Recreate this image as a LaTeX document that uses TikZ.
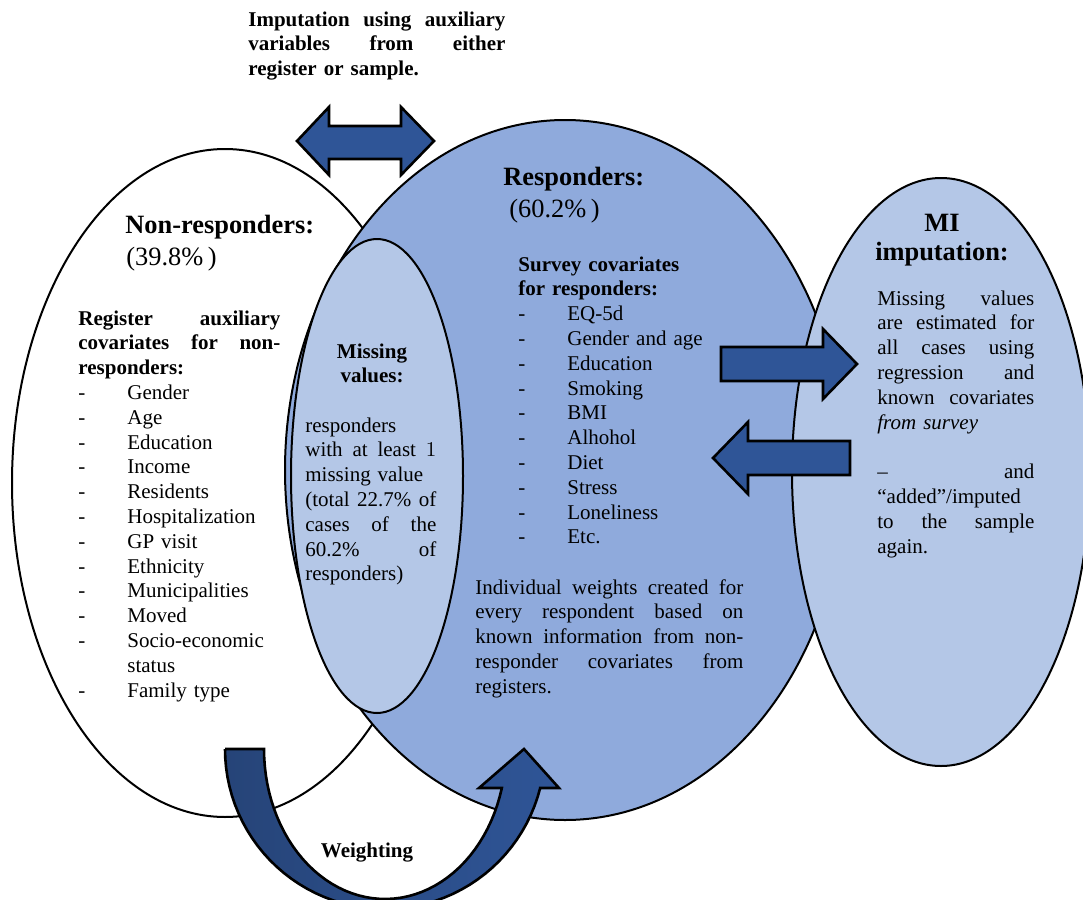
\documentclass[tikz,border=0pt]{standalone}
\usepackage{fontspec}
\setmainfont{Liberation Serif}
\usepackage{tikz}

\definecolor{respblue}{HTML}{8FAADC}
\definecolor{lightblue}{HTML}{B4C7E7}
\definecolor{arrowblue}{HTML}{2F5597}
\definecolor{darkarrow}{HTML}{264478}

\newcommand{\jl}[2]{\leavevmode\hbox to #1{#2}}
\newcommand{\itm}[1]{\makebox[24.5pt][l]{-}#1}

\begin{document}
\begin{tikzpicture}[x=0.5pt,y=-0.5pt,
  blob/.style={draw=black,line width=1pt},
  arrowedge/.style={draw=black,line width=1.3pt,line join=miter},
  blockarrow/.style={arrowedge,fill=arrowblue},
  txt/.style={inner sep=0pt,anchor=base west,align=left,font=\fontsize{10.5}{12.4}\selectfont},
  head/.style={inner sep=0pt,anchor=base west,font=\fontsize{13.2}{16}\selectfont\bfseries}]

\useasboundingbox (0,0) rectangle (1083,900);
\clip (0,0) rectangle (1083,900);

\draw [blob,fill=white] (225,483) ellipse [x radius=213,y radius=334] ;
\draw [blob,fill=respblue] (565,470) ellipse [x radius=280,y radius=350] ;
\draw [blob,fill=lightblue] (377,476) ellipse [x radius=86,y radius=237] ;
\draw [blob,fill=lightblue] (941,472) ellipse [x radius=149,y radius=294] ;

\draw [blockarrow] (297,141) -- (329,107) -- (329,126) -- (401,126) -- (401,107) -- (434,141)
  -- (401,175) -- (401,159) -- (329,159) -- (329,175) -- cycle ;
\draw [blockarrow] (721,347) -- (823,347) -- (823,329) -- (857,364) -- (823,399) -- (823,381) -- (721,381) -- cycle ;
\draw [blockarrow] (850,441) -- (748,441) -- (748,422) -- (713,458) -- (748,494) -- (748,475) -- (850,475) -- cycle ;
\draw [arrowedge,left color=darkarrow,right color=arrowblue] (225,749) -- (264,749)
  -- plot [domain=180:15.07,samples=50] ({385+121*cos(\x)},{749+150*sin(\x)})
  -- (479,788) -- (524,749) -- (559,788) -- (539,788)
  -- plot [domain=14.1:180,samples=50] ({385+160*cos(\x)},{749+160*sin(\x)}) -- cycle ;

\node (imputetxt) [txt,text width=128.5pt,font=\fontsize{10.5}{12.4}\selectfont\bfseries] at (248,26)
  {\jl{128.5pt}{Imputation\hfill using\hfill auxiliary}\\\jl{128.5pt}{variables\hfill from\hfill either}\\register or sample.} ;

\node (nonresphead) [head] at (125,233) {Non-responders:} ;
\node (nonresppct) [head,font=\fontsize{13.2}{16}\selectfont] at (126,265) {(39.8\%\,)} ;
\node (regtxt) [txt,text width=101pt] at (78,325)
  {\jl{101pt}{\textbf{Register}\hfill\textbf{auxiliary}}\\\jl{101pt}{\textbf{covariates}\hfill\textbf{for}\hfill\textbf{non-}}\\
   \textbf{responders:}\\
   \itm{Gender}\\\itm{Age}\\\itm{Education}\\\itm{Income}\\\itm{Residents}\\\itm{Hospitalization}\\
   \itm{GP visit}\\\itm{Ethnicity}\\\itm{Municipalities}\\\itm{Moved}\\\itm{Socio-economic}\\
   \hspace*{24.5pt}status\\\itm{Family type}} ;

\node (missinghead) [txt,anchor=base,align=center,text width=60pt,font=\fontsize{10.5}{12.4}\selectfont\bfseries] at (372,358)
  {Missing\\values:} ;
\node (missingtxt) [txt,text width=65.5pt] at (305,432)
  {responders\\\jl{65.5pt}{with\hfill at\hfill least\hfill\makebox[5.25pt][r]{\fontfamily{lmr}\selectfont 1}}\\missing value\\
   \jl{65.5pt}{(total\hfill 22.7\%\hfill of}\\\jl{65.5pt}{cases\hfill of\hfill the}\\\jl{65.5pt}{60.2\%\hfill of}\\
   responders)} ;

\node (resphead) [head] at (503,185) {Responders:} ;
\node (resppct) [head,font=\fontsize{13.2}{16}\selectfont] at (509,217) {(60.2\%\,)} ;
\node (survtxt) [txt,text width=120pt] at (518,271)
  {\textbf{Survey covariates}\\\textbf{for responders:}\\
   \itm{EQ-5d}\\\itm{Gender and age}\\\itm{Education}\\\itm{Smoking}\\\itm{BMI}\\\itm{Alhohol}\\
   \itm{Diet}\\\itm{Stress}\\\itm{Loneliness}\\\itm{Etc.}} ;
\node (weighttxt) [txt,text width=134pt] at (475,594)
  {\jl{134pt}{Individual\hfill weights\hfill created\hfill for}\\\jl{134pt}{every\hfill respondent\hfill based\hfill on}\\
   \jl{134pt}{known\hfill information\hfill from\hfill non-}\\\jl{134pt}{responder\hfill covariates\hfill from}\\registers.} ;

\node (mihead) [head,anchor=base,align=center,text width=80pt,font=\fontsize{13.2}{14.5}\selectfont\bfseries] at (942,231)
  {MI\\imputation:} ;
\node (mitxt) [txt,text width=78.5pt] at (877,305)
  {\jl{78.5pt}{Missing\hfill values}\\\jl{78.5pt}{are\hfill estimated\hfill for}\\\jl{78.5pt}{all\hfill cases\hfill using}\\
   \jl{78.5pt}{regression\hfill and}\\\jl{78.5pt}{known\hfill covariates}\\\textit{from survey}\\\mbox{}\\
   \jl{78.5pt}{–\hfill and}\\“added”/imputed\\\jl{78.5pt}{to\hfill the\hfill sample}\\again.} ;

\node (weightlbl) [txt,anchor=base,font=\fontsize{10.5}{12.4}\selectfont\bfseries] at (367,857) {Weighting} ;

\end{tikzpicture}
\end{document}
